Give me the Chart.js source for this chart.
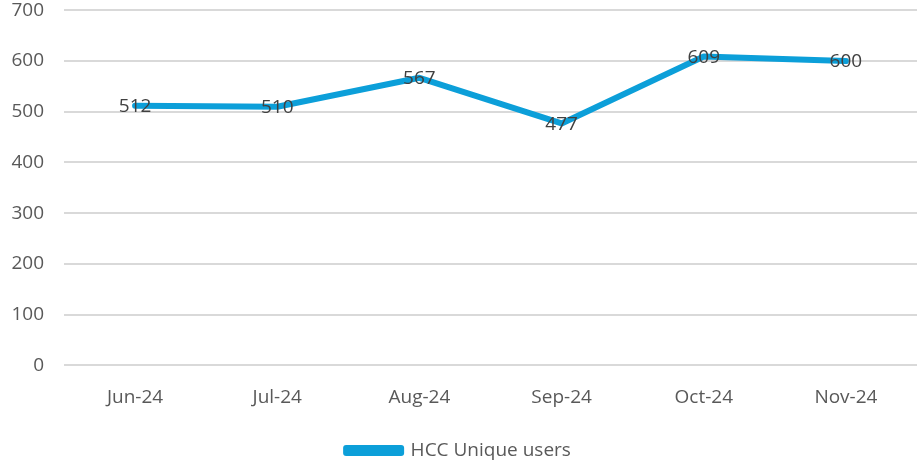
<!DOCTYPE html>
<html>
<head>
<meta charset="utf-8">
<script src="https://cdn.jsdelivr.net/npm/chart.js@4/dist/chart.umd.min.js"></script>
<style>
html,body{margin:0;padding:0;background:#fff;}
#wrap{width:917px;height:461px;position:relative;overflow:hidden;}
#inner{position:absolute;left:0;top:-21px;width:917px;height:491px;}
</style>
</head>
<body>
<div id="wrap"><div id="inner"><canvas id="c"></canvas></div></div>
<script>
const categories = ["Jun-24","Jul-24","Aug-24","Sep-24","Oct-24","Nov-24"];
const seriesName = "HCC Unique users";
const values = [512, 510, 567, 477, 609, 600];
const yTicks = [0,100,200,300,400,500,600,700];

const FONT = "'Open Sans', 'Noto Sans', sans-serif";

const labelPlugin = {
  id: 'pointLabels',
  afterDatasetsDraw(chart) {
    const ctx = chart.ctx;
    const meta = chart.getDatasetMeta(0);
    ctx.save();
    ctx.font = "19px " + FONT;
    ctx.fillStyle = "#404040";
    ctx.textAlign = "center";
    ctx.textBaseline = "middle";
    meta.data.forEach((pt, i) => {
      ctx.fillText(String(values[i]), pt.x, pt.y + 1);
    });
    ctx.restore();
  }
};

new Chart(document.getElementById('c'), {
  type: 'line',
  data: {
    labels: categories,
    datasets: [{
      label: seriesName,
      data: values,
      borderColor: '#0c9fd9',
      backgroundColor: '#0c9fd9',
      borderWidth: 6,
      pointRadius: 0,
      pointHoverRadius: 0,
      tension: 0,
      borderCapStyle: 'round',
      borderJoinStyle: 'round'
    }]
  },
  options: {
    responsive: true,
    maintainAspectRatio: false,
    animation: false,
    devicePixelRatio: 1,
    layout: { padding: { top: 2, right: 0, left: 0, bottom: 0 } },
    plugins: {
      legend: {
        position: 'bottom',
        labels: {
          boxWidth: 55,
          boxHeight: 5,
          padding: 19,
          color: '#595959',
          font: { size: 19, family: FONT }
        }
      },
      tooltip: { enabled: false }
    },
    scales: {
      x: {
        offset: true,
        grid: { display: false },
        border: { display: false },
        ticks: { color: '#595959', font: { size: 19, family: FONT }, padding: 13 }
      },
      y: {
        min: 0, max: 700,
        afterBuildTicks: s => { s.ticks = yTicks.map(v => ({ value: v })); },
        afterFit: s => { s.width = 64; },
        grid: { color: '#d9d9d9', lineWidth: 2, drawTicks: false },
        border: { display: false },
        ticks: { color: '#595959', font: { size: 19, family: FONT }, padding: 20 }
      }
    }
  },
  plugins: [labelPlugin]
});
</script>
</body>
</html>
